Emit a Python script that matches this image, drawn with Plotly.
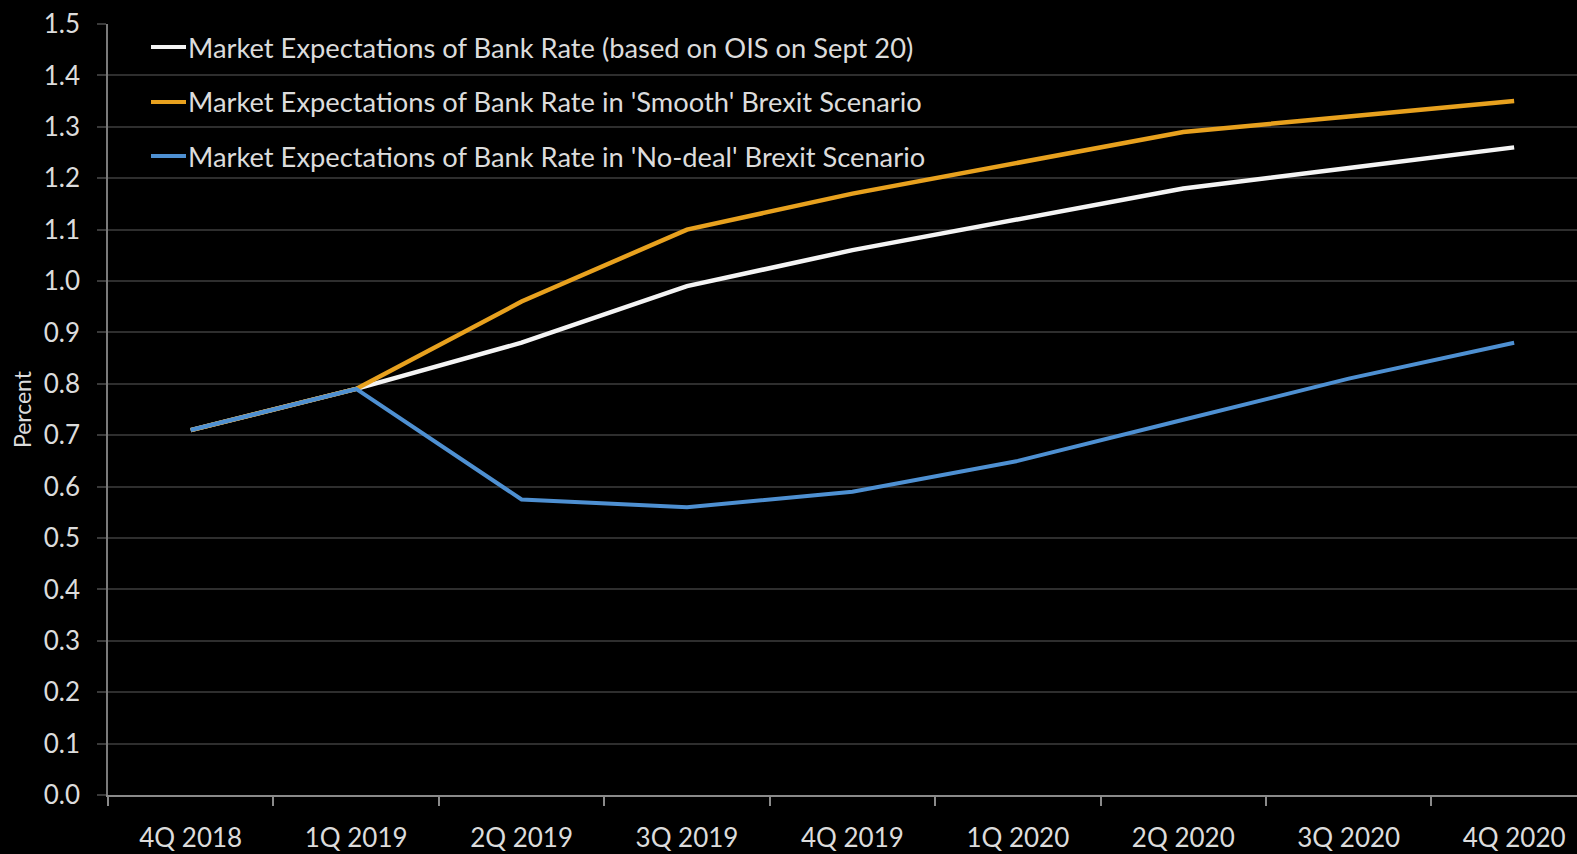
import plotly.graph_objects as go

quarters = ["4Q 2018", "1Q 2019", "2Q 2019", "3Q 2019", "4Q 2019",
            "1Q 2020", "2Q 2020", "3Q 2020", "4Q 2020"]

ois_sept20 = [0.71, 0.79, 0.88, 0.99, 1.06, 1.12, 1.18, 1.22, 1.26]
smooth_brexit = [0.71, 0.79, 0.96, 1.10, 1.17, 1.23, 1.29, 1.32, 1.35]
no_deal_brexit = [0.71, 0.79, 0.575, 0.56, 0.59, 0.65, 0.73, 0.81, 0.88]

series_names = [
    "Market Expectations of Bank Rate (based on OIS on Sept 20)",
    "Market Expectations of Bank Rate in 'Smooth' Brexit Scenario",
    "Market Expectations of Bank Rate in 'No-deal' Brexit Scenario",
]
series_values = [ois_sept20, smooth_brexit, no_deal_brexit]
series_colors = ["#f4f4f4", "#e8a11e", "#4e90d2"]
series_widths = [4.5, 4.5, 4]

y_ticks = [round(i * 0.1, 1) for i in range(16)]

FONT = "Lato"
TEXT = "#dcdcdc"

fig = go.Figure()
for name, vals, col, w in zip(series_names, series_values, series_colors, series_widths):
    fig.add_trace(go.Scatter(
        x=quarters, y=vals, name=name, mode="lines",
        line=dict(color=col, width=w), showlegend=False,
    ))

# Legend drawn as sample strokes plus labels in the upper-left corner
row_y = [47, 102, 156]
for name, col, ry in zip(series_names, series_colors, row_y):
    yp = 1 - (ry - 24) / 771
    fig.add_shape(type="line", xref="paper", yref="paper",
                  x0=(151 - 108) / 1469, x1=(186 - 108) / 1469, y0=yp, y1=yp,
                  line=dict(color=col, width=4))
    fig.add_annotation(text=name, xref="paper", yref="paper",
                       x=(186 - 108) / 1469, y=yp, xanchor="left", yanchor="middle",
                       showarrow=False, font=dict(family=FONT, size=27.3, color=TEXT))

fig.update_layout(
    width=1577, height=854,
    margin=dict(l=108, r=0, t=24, b=59),
    paper_bgcolor="#000000", plot_bgcolor="#000000",
    font=dict(family=FONT, size=26, color=TEXT),
    showlegend=False,
)
fig.update_xaxes(
    type="category", categoryorder="array", categoryarray=quarters,
    range=[-0.5, 8.38], tickson="boundaries",
    ticks="outside", ticklen=9, tickcolor="#8a8a8a", tickwidth=1.5,
    ticklabelstandoff=19,
    showgrid=False, showline=True, linecolor="#8a8a8a", linewidth=1.5,
    tickfont=dict(family=FONT, size=26, color=TEXT), zeroline=False,
)
fig.update_yaxes(
    range=[0, 1.5], tickvals=y_ticks, ticktext=[f"{v:.1f}" for v in y_ticks],
    ticks="outside", ticklen=9, tickcolor="#3a3a3a", tickwidth=1.5,
    ticklabelstandoff=12,
    showgrid=True, gridcolor="#2e2e2e", gridwidth=1.5,
    showline=True, linecolor="#7a7a7a", linewidth=1.5, zeroline=False,
    tickfont=dict(family=FONT, size=26, color=TEXT),
    title=dict(text="Percent", font=dict(family=FONT, size=23, color=TEXT), standoff=6),
)

fig.write_html("out.html")
